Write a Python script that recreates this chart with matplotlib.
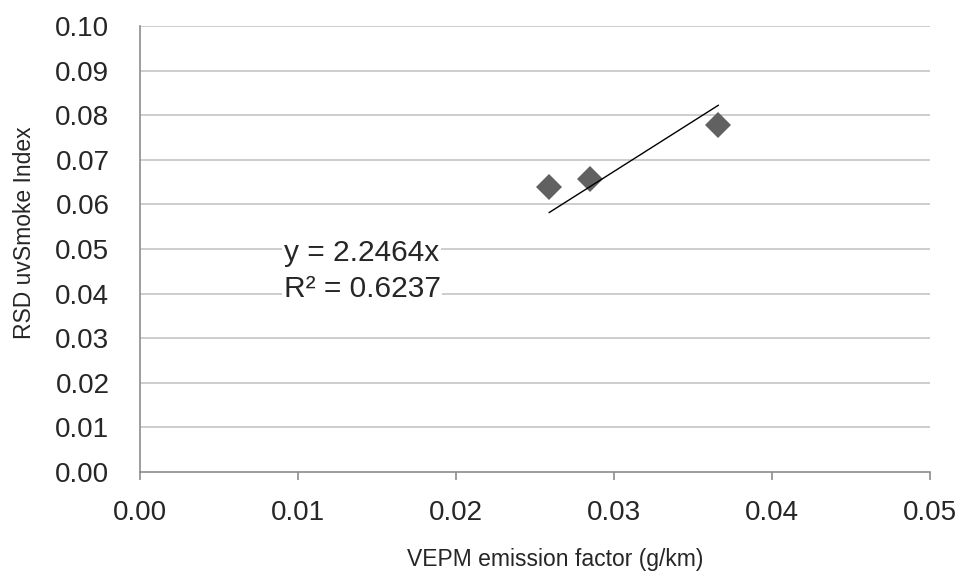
import matplotlib
matplotlib.use('Agg')
import matplotlib.pyplot as plt
import numpy as np

# valeurs
vepm_ef = [0.0259, 0.0285, 0.0366]      # g/km
rsd_uvsmoke = [0.0638, 0.0656, 0.0779]
slope = 2.2464
r2 = 0.6237

x_ticks = [0.00, 0.01, 0.02, 0.03, 0.04, 0.05]
y_ticks = [0.00, 0.01, 0.02, 0.03, 0.04, 0.05, 0.06, 0.07, 0.08, 0.09, 0.10]

plt.rcParams['font.family'] = ['Liberation Sans', 'DejaVu Sans']

fig = plt.figure(figsize=(9.61, 5.78), dpi=100)
ax = fig.add_axes([140 / 961, 1 - 472 / 578, 790 / 961, 446 / 578])

# grille horizontale
for yv in y_ticks[1:]:
    ax.axhline(yv, color='#c0c0c0', linewidth=1.1, zorder=1)

# points
ax.plot(vepm_ef, rsd_uvsmoke, linestyle='none', marker='D', markersize=13.5,
        color='#616161', markeredgewidth=0, zorder=3)

# droite de tendance (passant par l'origine)
xt = np.array([min(vepm_ef), max(vepm_ef)])
ax.plot(xt, slope * xt, color='black', linewidth=1.0, zorder=4)

# équation
bb = dict(facecolor='white', edgecolor='none', pad=1)
ax.text(0.182, 0.492, 'y = 2.2464x', transform=ax.transAxes, fontsize=21.5,
        ha='left', va='center', color='#262626', bbox=bb, zorder=5)
ax.text(0.182, 0.41, f'R² = {r2:.4f}', transform=ax.transAxes, fontsize=21.5,
        ha='left', va='center', color='#262626', bbox=bb, zorder=5)

ax.set_xlim(0, 0.05)
ax.set_ylim(0, 0.10)
ax.set_xticks(x_ticks)
ax.set_xticklabels([f'{v:.2f}' for v in x_ticks])
ax.set_yticks(y_ticks)
ax.set_yticklabels([f'{v:.2f}' for v in y_ticks])

for side in ['top', 'right']:
    ax.spines[side].set_visible(False)
for side in ['left', 'bottom']:
    ax.spines[side].set_color('#8c8c8c')
    ax.spines[side].set_linewidth(1.2)

ax.tick_params(axis='x', length=6, width=1.2, color='#8c8c8c', pad=14,
               labelsize=20, labelcolor='#262626')
ax.tick_params(axis='y', length=0, pad=22, labelsize=20, labelcolor='#262626')

ax.set_xlabel('VEPM emission factor (g/km)', fontsize=16.5, color='#262626')
ax.xaxis.set_label_coords(0.525, -0.197)
ax.xaxis.label.set_va('center')
ax.set_ylabel('RSD uvSmoke Index', fontsize=16.5, color='#262626')
ax.yaxis.set_label_coords(-0.1456, 0.536)
ax.yaxis.label.set_va('center')

plt.savefig('out.png', dpi=100)
